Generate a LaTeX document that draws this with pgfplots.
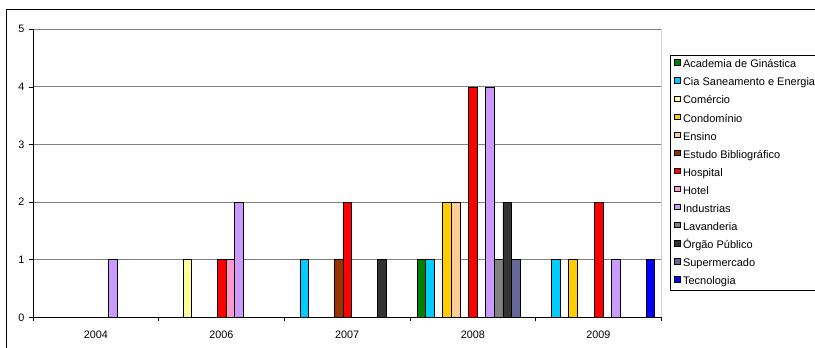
\documentclass[border=0pt]{standalone}
\usepackage{pgfplots}
\pgfplotsset{compat=1.18}
\usepackage{fontspec}
\setmainfont{Liberation Sans}
\definecolor{cAcad}{HTML}{008000}
\definecolor{cCia}{HTML}{00CCFF}
\definecolor{cCom}{HTML}{FFFF99}
\definecolor{cCond}{HTML}{FFCC00}
\definecolor{cEns}{HTML}{FFCC99}
\definecolor{cEst}{HTML}{993300}
\definecolor{cHosp}{HTML}{FF0000}
\definecolor{cHot}{HTML}{FF99CC}
\definecolor{cInd}{HTML}{CC99FF}
\definecolor{cLav}{HTML}{808080}
\definecolor{cOrg}{HTML}{333333}
\definecolor{cSup}{HTML}{666699}
\definecolor{cTec}{HTML}{0000FF}
\begin{document}
\begin{tikzpicture}[x=1pt,y=1pt]
\path[use as bounding box] (0,0) rectangle (815,348);
\draw[black, line width=1pt] (6,-10) rectangle (840,338);
\begin{axis}[
  at={(33pt,30.7pt)}, anchor=south west,
  scale only axis, width=628.3pt, height=288pt,
  xmin=-0.5, xmax=4.5, ymin=0, ymax=5,
  ybar=0pt, bar width=8.6pt,
  xtick={-0.5,0.5,1.5,2.5,3.5,4.5},
  x tick label as interval,
  xticklabels={2004,2006,2007,2008,2009},
  xticklabel style={yshift=-6.5pt},
  ytick={0,1,2,3,4,5},
  yticklabel style={xshift=-1pt},
  axis lines=left, axis line style={-, black, line width=0.8pt},
  tick align=outside, major tick length=4pt,
  tick style={black, line width=0.6pt},
  ymajorgrids, grid style={draw=gray, line width=1pt},
  ticklabel style={font=\fontsize{10.8}{12}\selectfont},
  /pgf/number format/assume math mode=true,
  every axis plot/.append style={draw=black, line width=0.5pt},
  legend cell align=left,
  legend image code/.code={\draw[#1, line width=0.5pt] (0pt,-0.2pt) rectangle (5.6pt,5.4pt);},
  legend style={at={(1.0131,0.9107)}, anchor=north west, draw=black, line width=0.8pt,
    font=\fontsize{11}{12}\selectfont, inner xsep=4pt, inner ysep=4pt,
    row sep=7.4pt, column sep=3pt,
    nodes={inner sep=0pt, text height=7.8pt, text depth=2.2pt}},
]
\addplot[fill=cAcad] coordinates {(3,1)};
\addplot[fill=cCia] coordinates {(2,1) (3,1) (4,1)};
\addplot[fill=cCom] coordinates {(1,1)};
\addplot[fill=cCond] coordinates {(3,2) (4,1)};
\addplot[fill=cEns] coordinates {(3,2)};
\addplot[fill=cEst] coordinates {(2,1)};
\addplot[fill=cHosp] coordinates {(1,1) (2,2) (3,4) (4,2)};
\addplot[fill=cHot] coordinates {(1,1)};
\addplot[fill=cInd] coordinates {(0,1) (1,2) (3,4) (4,1)};
\addplot[fill=cLav] coordinates {(3,1)};
\addplot[fill=cOrg] coordinates {(2,1) (3,2)};
\addplot[fill=cSup] coordinates {(3,1)};
\addplot[fill=cTec] coordinates {(4,1)};
\legend{Academia de Ginástica, Cia Saneamento e Energia, Comércio, Condomínio, Ensino, Estudo Bibliográfico, Hospital, Hotel, Industrias, Lavanderia, Órgão Público, Supermercado, Tecnologia}
\draw[gray, line width=0.8pt] (rel axis cs:1,0) -- (rel axis cs:1,1);
\end{axis}
\end{tikzpicture}
\end{document}
